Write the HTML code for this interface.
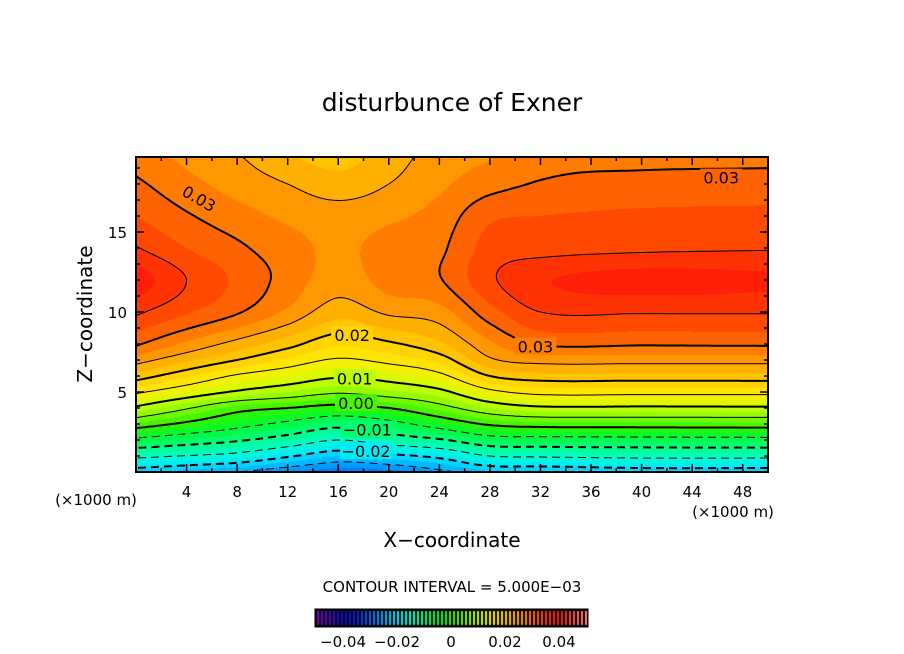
<!DOCTYPE html>
<html><head><meta charset="utf-8">
<style>
html,body{margin:0;padding:0;background:#fff;}
#wrap{position:relative;width:904px;height:654px;overflow:hidden;font-family:"DejaVu Sans","Liberation Sans",sans-serif;}
canvas{position:absolute;left:0;top:0;}
svg{position:absolute;left:0;top:0;}
</style></head>
<body>
<div id="wrap">
<canvas id="cv" width="904" height="654"></canvas>
<svg id="sv" width="904" height="654"></svg>
</div>
<script>
// ---- data: grid nodes (x in 1000 m, z in 1000 m) ----
const xNodes = [0, 4, 8, 12, 16, 20, 24, 28, 32, 40, 50];
const zNodes = [0, 1, 2, 3, 4, 5, 6, 7, 8, 10, 12, 14, 16, 18, 20];
const col0  = [-0.022,-0.014,-0.006,0.002,0.0093,0.0156,0.0215,0.0262,0.0304,0.0355,0.039,0.0352,0.0325,0.0305,0.0285];
const col4  = [-0.0235,-0.0152,-0.0078,-0.0008,0.0054,0.0125,0.018,0.023,0.027,0.0328,0.035,0.0325,0.0303,0.0283,0.0266];
const col8  = [-0.025,-0.0165,-0.0095,-0.0035,0.0015,0.0095,0.0145,0.02,0.024,0.0303,0.032,0.0305,0.0285,0.0265,0.025];
const col12 = [-0.0275,-0.0195,-0.012,-0.006,0,0.0075,0.0125,0.017,0.021,0.027,0.029,0.0285,0.027,0.025,0.0225];
const col16 = [-0.029,-0.0225,-0.015,-0.0085,-0.0015,0.0055,0.0105,0.0146,0.018,0.0235,0.0262,0.027,0.0262,0.0235,0.021];
const col20 = [-0.0285,-0.021,-0.0125,-0.0065,0,0.007,0.0115,0.016,0.0195,0.0255,0.0285,0.0285,0.027,0.025,0.0235];
const col24 = [-0.026,-0.019,-0.0105,-0.003,0.0035,0.009,0.014,0.0185,0.022,0.0265,0.0298,0.0295,0.0285,0.027,0.026];
const col28 = [-0.023,-0.015,-0.007,0.0005,0.0075,0.014,0.02,0.0245,0.027,0.0315,0.0345,0.0335,0.032,0.029,0.027];
const col32 = [-0.023,-0.0145,-0.0067,0.0015,0.0093,0.016,0.0215,0.026,0.0303,0.035,0.0372,0.034,0.0325,0.0302,0.029];
const col40 = [-0.022,-0.014,-0.0065,0.0017,0.0093,0.016,0.0215,0.026,0.0303,0.0352,0.0385,0.0345,0.033,0.0308,0.029];
const col50 = [-0.022,-0.014,-0.0063,0.0018,0.0094,0.016,0.0216,0.026,0.0304,0.0352,0.038,0.0348,0.0332,0.031,0.029];
const columns = [col0,col4,col8,col12,col16,col20,col24,col28,col32,col40,col50];
const contourLevels = [-0.025,-0.02,-0.015,-0.01,-0.005,0,0.005,0.01,0.015,0.02,0.025,0.03,0.035];
const xTickLabels = [4,8,12,16,20,24,28,32,36,40,44,48];
const zTickLabels = [5,10,15];
const cbLabels = [-0.04,-0.02,0,0.02,0.04];
const cbLabelText = ["\u22120.04","\u22120.02","0","0.02","0.04"];
const lineLabels = [
  {t:"0.03",x:5.0,z:17.1,r:30},{t:"0.03",x:46.3,z:18.4,r:0},{t:"0.03",x:31.6,z:7.85,r:0},
  {t:"0.02",x:17.1,z:8.55,r:0},{t:"0.01",x:17.3,z:5.85,r:0},{t:"0.00",x:17.4,z:4.3,r:0},
  {t:"\u22120.01",x:18.3,z:2.65,r:0},{t:"\u22120.02",x:18.2,z:1.3,r:0}
];

// ---- axes ----
const PX0=136, PX1=768, PY0=157, PY1=472;
const xScale = x => PX0 + x*(PX1-PX0)/50;
const zScale = z => PY1 - z*16;
const xInv = px => (px-PX0)*50/(PX1-PX0);
const zInv = py => (PY1-py)/16;
const cbScale = v => 451 + v*2700;

function herm(nodes,vals,v){
  const n=nodes.length;
  let i=0; while(i<n-2 && v>nodes[i+1]) i++;
  const h=nodes[i+1]-nodes[i];
  let t=(v-nodes[i])/h; t=Math.max(0,Math.min(1,t));
  const sl=k=> k===0?(vals[1]-vals[0])/(nodes[1]-nodes[0]) : k===n-1?(vals[n-1]-vals[n-2])/(nodes[n-1]-nodes[n-2]) : (vals[k+1]-vals[k-1])/(nodes[k+1]-nodes[k-1]);
  const m0=sl(i)*h, m1=sl(i+1)*h, t2=t*t, t3=t2*t;
  return (2*t3-3*t2+1)*vals[i]+(t3-2*t2+t)*m0+(-2*t3+3*t2)*vals[i+1]+(t3-t2)*m1;
}
function field(x,z){
  const colVals=columns.map(c=>herm(zNodes,c,z));
  return herm(xNodes,colVals,x);
}
const stops=[[-0.05,[130,0,200]],[-0.04,[20,0,220]],[-0.035,[0,40,240]],[-0.03,[0,110,255]],[-0.025,[0,170,255]],[-0.02,[0,228,255]],[-0.015,[0,255,205]],[-0.01,[0,255,130]],[-0.005,[0,250,50]],[0,[50,245,0]],[0.005,[130,250,0]],[0.01,[205,255,0]],[0.015,[255,235,0]],[0.02,[255,205,0]],[0.025,[255,165,0]],[0.03,[255,110,0]],[0.035,[255,60,0]],[0.04,[255,20,10]],[0.05,[255,140,140]]];
function color(v){
  if(v<=stops[0][0]) return stops[0][1];
  for(let k=0;k<stops.length-1;k++){
    if(v<=stops[k+1][0]){const t=(v-stops[k][0])/(stops[k+1][0]-stops[k][0]);
      return stops[k][1].map((c,n)=>Math.round(c+(stops[k+1][1][n]-c)*t));}
  }
  return stops[stops.length-1][1];
}
const qcolor = v => color(Math.floor(v/0.0025)*0.0025+0.00125);

// ---- fill ----
const cv=document.getElementById('cv'), ctx=cv.getContext('2d');
const W=PX1-PX0, H=PY1-PY0;
const img=ctx.createImageData(W,H);
for(let py=0;py<H;py++){
  const z=zInv(PY0+py+0.5);
  const colVals=columns.map(c=>herm(zNodes,c,z));
  for(let px=0;px<W;px++){
    const c=qcolor(herm(xNodes,colVals,xInv(PX0+px+0.5)));
    const o=(py*W+px)*4; img.data[o]=c[0];img.data[o+1]=c[1];img.data[o+2]=c[2];img.data[o+3]=255;}}
ctx.putImageData(img,PX0,PY0);
// colorbar
ctx.fillStyle='#000'; ctx.fillRect(315,609,273,18);
for(let px=317;px<587;px+=4){
  const v=(px-451)/2700; const c=color(v);
  ctx.fillStyle=`rgb(${c[0]},${c[1]},${c[2]})`; ctx.fillRect(px,611,2,14);
}

// ---- svg ----
const NS='http://www.w3.org/2000/svg', sv=document.getElementById('sv');
function mk(tag,attrs,parent){const e=document.createElementNS(NS,tag);for(const k in attrs)e.setAttribute(k,attrs[k]);(parent||sv).appendChild(e);return e;}

// contours via marching squares
const STEP=3, nx=Math.ceil(W/STEP), nz=Math.ceil(H/STEP);
const gx=i=>PX0+Math.min(i*STEP,W), gy=j=>PY0+Math.min(j*STEP,H);
const G=[];
for(let i=0;i<=nx;i++){G.push([]);for(let j=0;j<=nz;j++)G[i].push(field(xInv(gx(i)),zInv(gy(j))));}
const cg=mk('g',{});


contourLevels.forEach(L=>{
  const segs=[];
  const eH=(i,j)=>{const a=G[i][j],b=G[i+1][j],t=(L-a)/(b-a);return [gx(i)+(gx(i+1)-gx(i))*t,gy(j)];};
  const eV=(i,j)=>{const a=G[i][j],b=G[i][j+1],t=(L-a)/(b-a);return [gx(i),gy(j)+(gy(j+1)-gy(j))*t];};
  for(let i=0;i<nx;i++)for(let j=0;j<nz;j++){
    const pts=[];
    const a=G[i][j]>=L,b=G[i+1][j]>=L,c=G[i+1][j+1]>=L,d=G[i][j+1]>=L;
    if(a!==b)pts.push(eH(i,j)); if(b!==c)pts.push(eV(i+1,j)); if(c!==d)pts.push(eH(i,j+1)); if(d!==a)pts.push(eV(i,j));
    if(pts.length===2)segs.push([pts[0],pts[1]]);
    else if(pts.length===4){segs.push([pts[0],pts[1]]);segs.push([pts[2],pts[3]]);}
  }
  const key=p=>p[0].toFixed(3)+','+p[1].toFixed(3);
  const map=new Map();
  segs.forEach((s,n)=>s.forEach(p=>{const k=key(p);if(!map.has(k))map.set(k,[]);map.get(k).push(n);}));
  const used=new Array(segs.length).fill(false);
  let d='';
  for(let n=0;n<segs.length;n++){if(used[n])continue;used[n]=true;
    const line=[segs[n][0],segs[n][1]];
    for(const dir of [1,0]){
      while(true){const end=dir?line[line.length-1]:line[0];const k=key(end);
        const cand=(map.get(k)||[]).find(m=>!used[m]); if(cand===undefined)break; used[cand]=true;
        const s=segs[cand]; const nxt=key(s[0])===k?s[1]:s[0];
        if(dir)line.push(nxt);else line.unshift(nxt);}
    }
    d+='M'+line.map(p=>p[0].toFixed(1)+' '+p[1].toFixed(1)).join('L');
  }
  const major=Math.abs(Math.round(L*1000))%10===0;
  const p=mk('path',{d:d,fill:'none',stroke:'#000','stroke-width':major?2:1,'stroke-dasharray':L<0?'8 5':'none'},cg);
  
  
});
// line labels
lineLabels.forEach(l=>{
  const x=xScale(l.x), y=zScale(l.z);
  const g=mk('g',{transform:`translate(${x},${y}) rotate(${l.r})`});
  
  
  const c=qcolor(field(l.x,l.z));
  const w=l.t.length*9.5+4;
  mk('rect',{x:-w/2,y:-9,width:w,height:17,fill:`rgb(${c[0]},${c[1]},${c[2]})`},g);
  const t=mk('text',{x:0,y:6,'text-anchor':'middle','font-size':16,fill:'#000'},g); t.textContent=l.t;
});
// frame and ticks
const fr=mk('rect',{x:PX0,y:PY0,width:W,height:H,fill:'none',stroke:'#000','stroke-width':2});


let td='';
for(let x=2;x<50;x+=2){const px=xScale(x),len=x%4===0?8:4;td+=`M${px} ${PY1}v${-len}M${px} ${PY0}v${len}`;}
for(let z=1;z<20;z++){const py=zScale(z),len=z%5===0?8:4;td+=`M${PX0} ${py}h${len}M${PX1} ${py}h${-len}`;}
const tk=mk('path',{d:td,stroke:'#000','stroke-width':1.5,fill:'none'});


xTickLabels.forEach(v=>{const t=mk('text',{x:xScale(v),y:497,'text-anchor':'middle','font-size':15});t.textContent=v;
  
  });
zTickLabels.forEach(v=>{const t=mk('text',{x:127,y:zScale(v)+6,'text-anchor':'end','font-size':15});t.textContent=v;
  
  });
cbLabels.forEach((v,n)=>{const t=mk('text',{x:cbScale(v),y:647,'text-anchor':'middle','font-size':15});t.textContent=cbLabelText[n];
  
  });
function label(txt,x,y,fs,name,extra){const t=mk('text',Object.assign({x:x,y:y,'text-anchor':'middle','font-size':fs},extra||{}));t.textContent=txt;
  
  return t;}
label('disturbunce of Exner',452,111,25,'chart-title');
label('X\u2212coordinate',452,547,20,'x-axis-title');
label('Z\u2212coordinate',0,0,20,'y-axis-title',{transform:'translate(92,314) rotate(-90)'});
label('(\u00d71000 m)',96,505,15,'x-unit-left');
label('(\u00d71000 m)',733,517,15,'x-unit-right');
label('CONTOUR INTERVAL = 5.000E\u221203',452,592,15,'contour-interval-note');
const cbf=mk('rect',{x:315,y:609,width:273,height:18,fill:'none',stroke:'#000','stroke-width':1});


</script>
</body></html>
